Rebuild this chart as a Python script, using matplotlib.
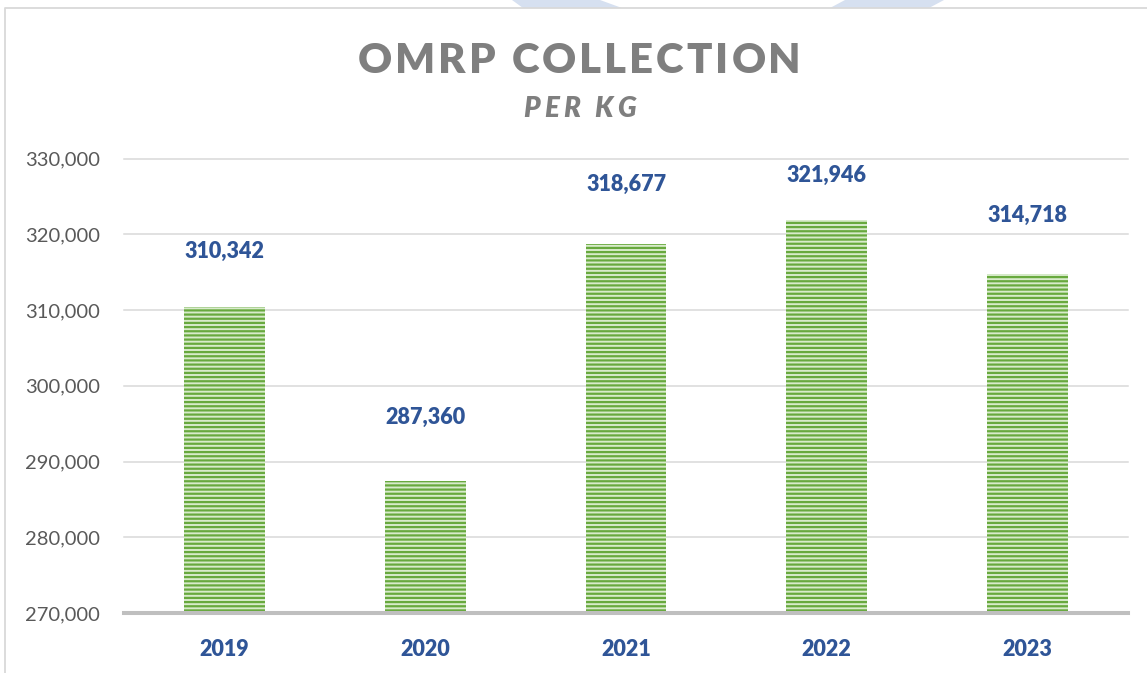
import matplotlib
matplotlib.use("Agg")
import matplotlib.pyplot as plt
from matplotlib.lines import Line2D
from matplotlib.patches import Polygon
from matplotlib import font_manager
from matplotlib.ticker import FuncFormatter

# ---------------- data ----------------
years = ["2019", "2020", "2021", "2022", "2023"]
collection_kg = [310342, 287360, 318677, 321946, 314718]
y_ticks = [270000, 280000, 290000, 300000, 310000, 320000, 330000]
title_text = "OMRP COLLECTION"
subtitle_text = "PER KG"

# ---------------- style ----------------
W, H, DPI = 1147, 673, 100
BAR_GREEN = "#68A93E"
BAR_LIGHT = "#D8EBCB"
LABEL_BLUE = "#2F5597"
TICK_GRAY = "#595959"
TITLE_GRAY = "#7F7F7F"
GRID_GRAY = "#D9D9D9"
AXIS_GRAY = "#BFBFBF"
FONT = "Lato"
label_offsets_pt = [40.3, 46.1, 43.2, 31.7, 42.5]

plt.rcParams["font.family"] = [FONT, "DejaVu Sans"]
plt.rcParams["hatch.linewidth"] = 1.6
plt.rcParams["hatch.color"] = BAR_GREEN

fig = plt.figure(figsize=(W / DPI, H / DPI), dpi=DPI)
fig.patch.set_facecolor("white")


def px(x, y):
    return (x / W, 1 - y / H)


# background decoration above the chart frame
for poly in ([(512, 0), (600, 0), (622, 8), (523, 8)],
             [(845, 0), (944, 0), (929, 8), (830, 8)]):
    fig.add_artist(Polygon([px(*p) for p in poly], closed=True,
                           transform=fig.transFigure, facecolor="#D6E0F0",
                           edgecolor="none", zorder=0))
# chart frame (left and top borders)
fx = [px(5, 673)[0], px(5, 8)[0], px(1147, 8)[0]]
fy = [px(5, 673)[1], px(5, 8)[1], px(1147, 8)[1]]
fig.add_artist(Line2D(fx, fy, transform=fig.transFigure, color=GRID_GRAY,
                      linewidth=1.3, zorder=1))

left, right, top, bottom = 124.3, 1127.8, 158.5, 613
ax = fig.add_axes([left / W, 1 - bottom / H, (right - left) / W, (bottom - top) / H])
ax.set_facecolor("none")

x = list(range(len(years)))
bars = ax.bar(x, collection_kg, width=0.402, color=BAR_LIGHT,
              edgecolor=BAR_GREEN, linewidth=0, hatch="----", zorder=3)

ax.set_xlim(-0.5, len(years) - 0.5)
ax.set_ylim(y_ticks[0], y_ticks[-1])
ax.set_yticks(y_ticks)
ax.yaxis.set_major_formatter(FuncFormatter(lambda v, p: f"{int(v):,}"))
ax.set_xticks(x)
ax.set_xticklabels(years)

ax.tick_params(axis="y", length=0, pad=17.3, labelsize=14.5, labelcolor=TICK_GRAY)
ax.tick_params(axis="x", length=0, pad=18.5, labelsize=15.5, labelcolor=LABEL_BLUE)
for lab in ax.get_xticklabels():
    lab.set_fontweight("heavy")

ax.grid(axis="y", color=GRID_GRAY, linewidth=1.1)
ax.set_axisbelow(True)
for gl in ax.get_ygridlines():
    gl.set_clip_on(False)
for s in ("top", "right", "left"):
    ax.spines[s].set_visible(False)
ax.spines["bottom"].set_color(AXIS_GRAY)
ax.spines["bottom"].set_linewidth(2.9)
ax.spines["bottom"].set_zorder(4)

for xi, v, off in zip(x, collection_kg, label_offsets_pt):
    ax.annotate(f"{v:,}", xy=(xi, v), xytext=(0, off), textcoords="offset points",
                ha="center", va="center", fontsize=15.5, fontweight="heavy",
                color=LABEL_BLUE)


# letter-spaced text helper
def spaced_text(s, cx, baseline_y, size, weight, style, target_width):
    prop = font_manager.FontProperties(family=FONT, weight=weight, style=style, size=size)
    font = font_manager.get_font(font_manager.findfont(prop))
    font.set_size(size, DPI)
    widths = []
    for c in s:
        g = font.load_char(ord(c))
        widths.append(g.linearHoriAdvance / 65536.0)
    natural = sum(widths)
    spacing = (target_width - natural) / (len(s) - 1)
    xpos = cx - target_width / 2
    for c, w in zip(s, widths):
        if c != " ":
            fig.text(xpos / W, 1 - baseline_y / H, c, fontproperties=prop,
                     color=TITLE_GRAY, ha="left", va="baseline")
        xpos += w + spacing


spaced_text(title_text, 579.5, 73, 30.2, "heavy", "normal", 443)
spaced_text(subtitle_text, 579.5, 117, 20, "heavy", "italic", 113)

fig.savefig("out.png", dpi=DPI, facecolor="white")
